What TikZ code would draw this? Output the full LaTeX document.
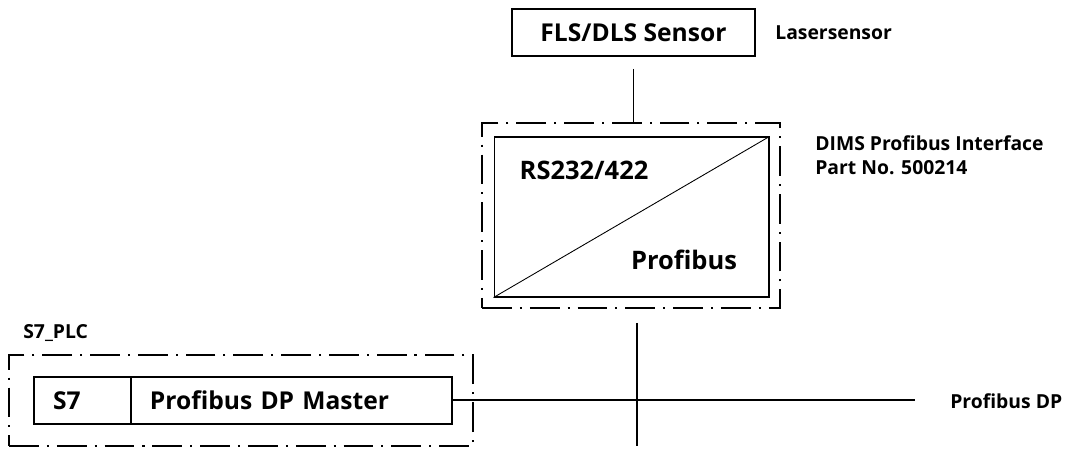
\documentclass[tikz,border=0pt]{standalone}
\usepackage{fontspec}
\setmainfont{Open Sans}
\usetikzlibrary{positioning}
\tikzset{unit/.style={rectangle,draw,line width=0.9pt,inner sep=0mm,font=\bfseries\fontsize{14}{16}\selectfont}}
\tikzset{cell/.style={rectangle,draw,line width=0.9pt,inner xsep=0.38cm,inner ysep=0mm,minimum height=0.94cm,align=left,font=\bfseries\fontsize{14}{16}\selectfont}}
\tikzset{frame/.style={rectangle,draw,line width=0.9pt,dash pattern=on 17pt off 4.5pt on 1.2pt off 4.5pt,inner sep=0mm}}
\tikzset{conv/.style={rectangle,draw,line width=0.6pt,inner sep=0mm,minimum width=5.5cm,minimum height=3.2cm}}
\tikzset{side/.style={anchor=west,align=left,inner sep=0mm,font=\bfseries\fontsize{11}{13.5}\selectfont}}
\tikzset{big/.style={inner sep=0mm,font=\bfseries\fontsize{14.5}{17}\selectfont}}

\begin{document}
\begin{tikzpicture}[x=0.02cm,y=-0.02cm]
    \useasboundingbox (0,0) rectangle (1069,449);
    % sensor
    \node[unit,minimum width=4.86cm,minimum height=0.94cm] (sensor) at (633.5,32.5) {FLS/DLS Sensor};
    \node[side] (lsr) at (775,32.5) {Lasersensor};

    % interface
    \node[frame,minimum width=5.96cm,minimum height=3.7cm] (ifc) at (631,215.5) {};
    \node[conv] (conv) at (631.5,217) {};
    \draw[line width=0.5pt] (conv.south west) -- (conv.north east);
    \node[big] (rs) at (584,170) {RS232/422};
    \node[big] (pb) at (684,260) {Profibus};
    \node[side] (dims) at (815,155) {DIMS Profibus Interface\\Part No. 500214};

    % plc
    \node[frame,minimum width=9.28cm,minimum height=1.82cm] (plc) at (241,400.5) {};
    \node[side] (plcl) at (23,333) {S7\_PLC};
    \node[cell,text width=1.18cm] (s7) at (82.5,400.5) {S7};
    \node[cell,text width=5.66cm,right=0pt of s7,xshift=-0.9pt] (master) {Profibus DP Master};

    % bus
    \coordinate (busend) at (915,400);
    \coordinate (tapt) at (637,323);
    \coordinate (tapb) at (637,446);
    \node[side] (dp) at (950,401) {Profibus DP};

    \draw[line width=0.9pt] (sensor.south) ++(0,12) -- (sensor.south |- ifc.north);
    \draw[line width=0.9pt] (master.east |- busend) -- (busend);
    \draw[line width=0.9pt] (tapt) -- (tapb);
\end{tikzpicture}
\end{document}
